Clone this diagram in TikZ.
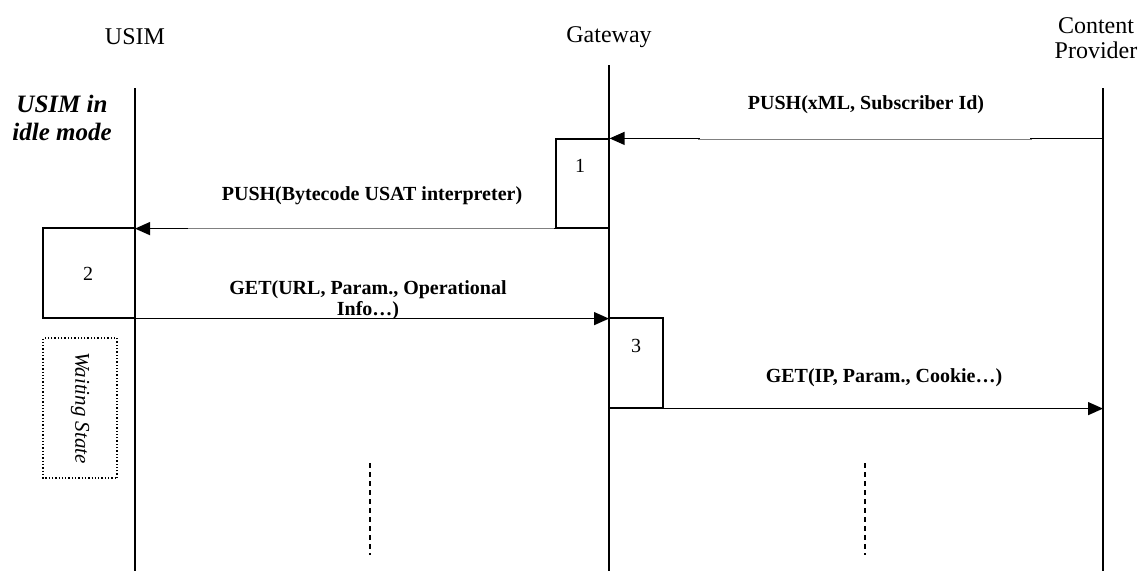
\documentclass[tikz,border=0pt]{standalone}
\usepackage{fontspec}
\setmainfont{Liberation Serif}
\usetikzlibrary{arrows.meta}
\begin{document}
\begin{tikzpicture}[x=1pt,y=-1pt,
  lifeline/.style={line width=1.4pt},
  msg/.style={line width=1.3pt,-{Triangle[length=15pt,width=13pt]}},
  hdr/.style={font=\fontsize{24}{25}\selectfont,align=center,inner sep=0pt},
  msglabel/.style={font=\fontsize{20}{21}\selectfont\bfseries,align=center,inner sep=0pt},
  procbox/.style={draw,line width=1.2pt,inner sep=0pt},
  num/.style={font=\fontsize{20}{22}\selectfont,inner sep=0pt},
  cont/.style={line width=1.2pt,dash pattern=on 5pt off 4pt}
]
\useasboundingbox (0,0) rectangle (1140,571);

% participants
\node[hdr] (usim) at (135,37) {USIM};
\node[hdr] (gw) at (609,37) {Gateway};
\node[hdr] (cp) at (1096,38) {Content\\Provider};

% lifelines
\coordinate (usimtop) at (135,88);
\coordinate (usimbot) at (135,571);
\coordinate (gwtop) at (609,65);
\coordinate (gwbot) at (609,571);
\coordinate (cptop) at (1103,88);
\coordinate (cpbot) at (1103,571);
\draw[lifeline] (usimtop) -- (usimbot);
\draw[lifeline] (gwtop) -- (gwbot);
\draw[lifeline] (cptop) -- (cpbot);

% state note
\node[font=\fontsize{25}{28}\selectfont\bfseries\itshape,align=center,inner sep=0pt]
  (idle) at (62,118) {USIM in\\idle mode};

% processing boxes
\node[procbox,minimum width=53pt,minimum height=89pt] (b1) at (582.5,183.5) {};
\node[num] (n1) at (580,166) {1};
\node[procbox,minimum width=92pt,minimum height=90pt] (b2) at (89,273) {};
\node[num] (n2) at (88,274) {2};
\node[procbox,minimum width=54pt,minimum height=90pt] (b3) at (636,363) {};
\node[num] (n3) at (636,346) {3};

% message 1: content provider -> gateway
\coordinate (m1s) at (b1.north east -| cptop);
\draw[msg] (m1s) -- (b1.north east);
\draw[white,line width=1.4pt] (700,139) -- (1030,139);
\draw[gray,line width=0.6pt] (698,139) -- (1032,139);
\node[msglabel] (l1) at (866,105) {PUSH(xML, Subscriber Id)};

% message 2: gateway -> USIM
\coordinate (m2e) at (b1.south west -| usimtop);
\draw[msg] (b1.south west) -- (m2e);
\draw[white,line width=1.4pt] (190,228) -- (552,228);
\draw[gray,line width=0.6pt] (188,228) -- (554,228);
\node[msglabel] (l2) at (372,196) {PUSH(Bytecode USAT interpreter)};

% message 3: USIM -> gateway
\coordinate (m3e) at (b2.south west -| gwtop);
\draw[msg] (b2.south west) -- (m3e);
\node[msglabel] (l3) at (368,300) {GET(URL, Param., Operational\\Info\dots)};

% message 4: gateway -> content provider
\coordinate (m4e) at (b3.south west -| cptop);
\draw[msg] (b3.south west) -- (m4e);
\node[msglabel] (l4) at (884,378) {GET(IP, Param., Cookie\dots)};

% waiting state
\node[draw,dotted,line width=1.3pt,rotate=-90,minimum width=140pt,minimum height=74pt,
  font=\fontsize{21}{23}\selectfont\itshape] (wait) at (80,408) {Waiting State};

% continuation marks
\coordinate (c1a) at (370,463);
\coordinate (c1b) at (370,555);
\coordinate (c2a) at (865,463);
\coordinate (c2b) at (865,555);
\draw[cont] (c1a) -- (c1b);
\draw[cont] (c2a) -- (c2b);
\end{tikzpicture}
\end{document}
